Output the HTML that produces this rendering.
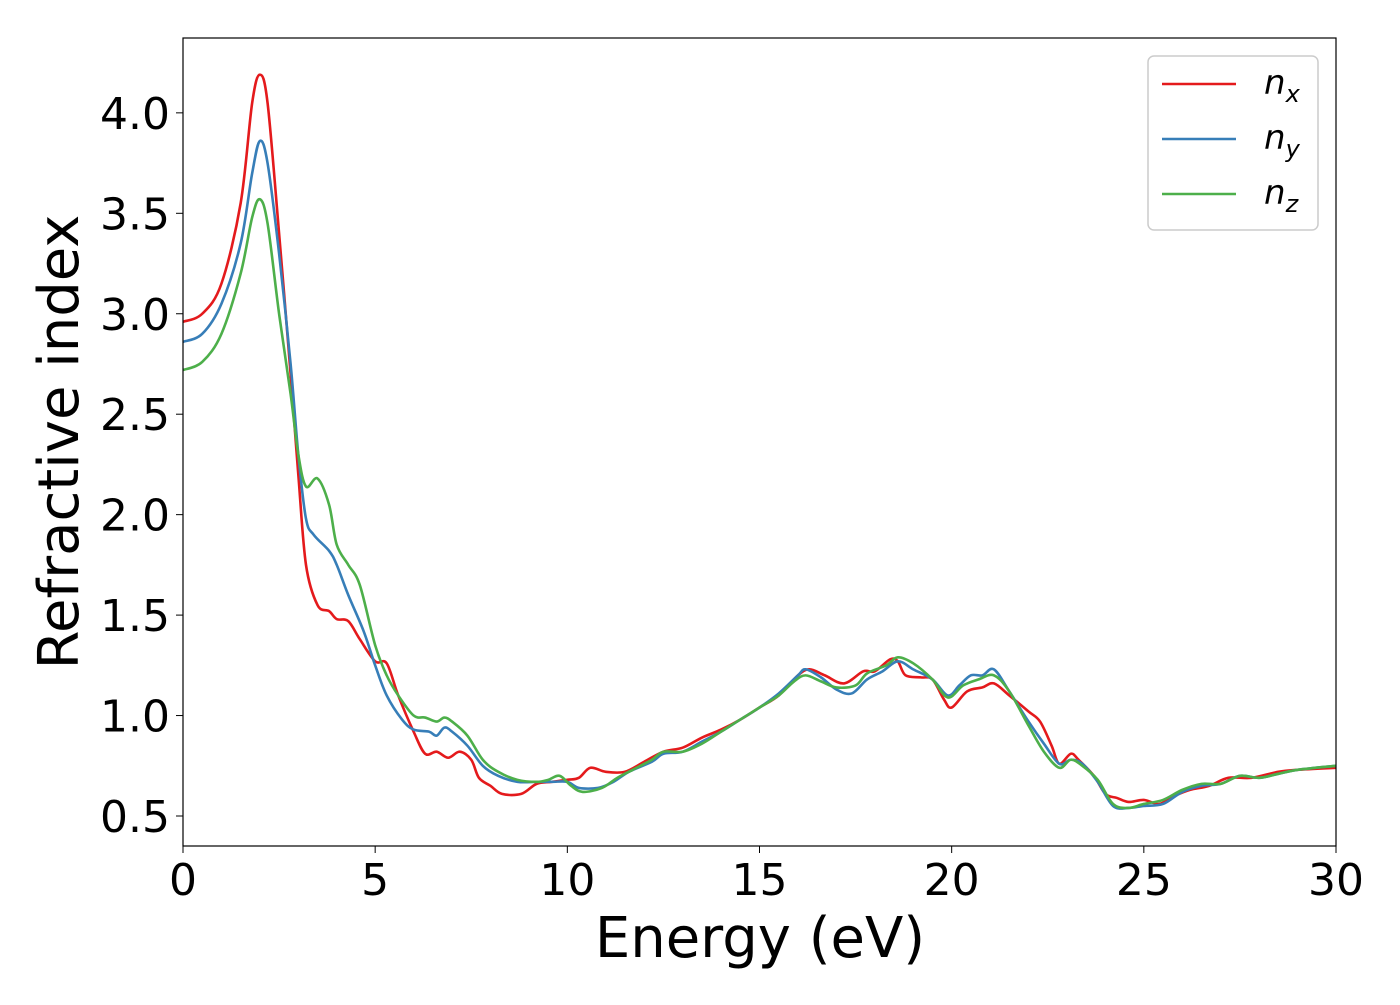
<!DOCTYPE html>
<html><head><meta charset="utf-8"><style>
body{margin:0;background:#fff;}
svg text{font-family:"DejaVu Sans","Liberation Sans",sans-serif;fill:#000;}
</style></head><body>
<svg id="chart" width="1400" height="1000" xmlns="http://www.w3.org/2000/svg">
<rect width="1400" height="1000" fill="#fff"/>
<g id="series"></g>
<rect x="183" y="38" width="1153" height="808" fill="none" stroke="#000" stroke-width="1.2"/>
<g id="xticks"></g><g id="yticks"></g>
<text x="760" y="957" font-size="56" text-anchor="middle">Energy (eV)</text>
<text transform="translate(78,442) rotate(-90)" font-size="56" text-anchor="middle">Refractive index</text>
<g>
<rect x="1148" y="56" width="170" height="174" rx="6" fill="#fff" fill-opacity="0.8" stroke="#ccc" stroke-width="1.5"/>
<g id="legend-entries"></g>
</g>
</svg>
<script>
const xTicks=[0,5,10,15,20,25,30];
const yTicks=[0.5,1.0,1.5,2.0,2.5,3.0,3.5,4.0];
const energy_x=[0,0.5,1,1.5,1.8,2.0,2.2,2.5,2.8,3.0,3.2,3.5,3.8,4.0,4.3,4.6,5.0,5.3,5.6,6.0,6.3,6.6,6.9,7.2,7.5,7.7,8.0,8.3,8.8,9.2,9.6,10.0,10.3,10.6,11.0,11.5,12.0,12.5,13,13.5,14,14.5,15,15.5,16,16.3,16.7,17.2,17.7,18.0,18.4,18.6,18.8,19.2,19.5,19.8,20.0,20.4,20.8,21.1,21.5,22,22.3,22.6,22.8,23.1,23.3,23.7,24.0,24.3,24.6,25.0,25.4,25.8,26.2,26.7,27.2,27.8,28.5,29,30];
const nx=[2.96,3.0,3.15,3.55,4.05,4.19,4.05,3.4,2.7,2.2,1.75,1.55,1.52,1.48,1.47,1.38,1.27,1.26,1.1,0.92,0.81,0.82,0.79,0.82,0.78,0.69,0.65,0.61,0.61,0.66,0.67,0.68,0.69,0.74,0.72,0.72,0.77,0.82,0.84,0.89,0.93,0.98,1.04,1.1,1.2,1.23,1.2,1.16,1.22,1.22,1.28,1.27,1.2,1.19,1.18,1.08,1.04,1.12,1.14,1.16,1.1,1.02,0.97,0.85,0.76,0.81,0.78,0.7,0.61,0.59,0.57,0.58,0.56,0.6,0.63,0.65,0.69,0.69,0.72,0.73,0.74];
const energy_y=[0,0.5,1,1.5,1.8,2.0,2.2,2.5,2.8,3.0,3.2,3.4,3.8,4.0,4.3,4.7,5.0,5.3,5.7,6.0,6.4,6.6,6.8,7.0,7.4,7.8,8.2,8.7,9.2,9.6,10.0,10.3,10.8,11.2,11.6,12.2,12.5,13,13.5,14,14.5,15,15.5,16,16.2,16.6,17,17.4,17.8,18.2,18.6,19,19.5,19.9,20.2,20.5,20.8,21.1,21.5,22,22.4,22.8,23.1,23.4,23.8,24.2,24.6,25.0,25.5,26,26.5,27,27.5,28,28.5,29,30];
const ny=[2.86,2.9,3.05,3.35,3.7,3.86,3.75,3.3,2.75,2.3,1.98,1.9,1.82,1.75,1.6,1.42,1.25,1.1,0.98,0.93,0.92,0.9,0.94,0.92,0.85,0.75,0.7,0.67,0.67,0.67,0.67,0.64,0.64,0.67,0.72,0.77,0.81,0.82,0.87,0.92,0.98,1.04,1.11,1.2,1.23,1.19,1.13,1.11,1.18,1.22,1.27,1.23,1.18,1.1,1.15,1.2,1.2,1.23,1.12,0.97,0.86,0.76,0.78,0.76,0.67,0.55,0.54,0.55,0.56,0.62,0.65,0.66,0.7,0.69,0.71,0.73,0.75];
const energy_z=[0,0.5,1,1.5,1.8,2.0,2.2,2.5,2.8,3.0,3.2,3.5,3.8,4.0,4.3,4.6,5.0,5.3,5.6,6.0,6.3,6.6,6.8,7.0,7.4,7.8,8.2,8.7,9.2,9.5,9.8,10.1,10.4,10.9,11.3,11.7,12.2,12.5,13,13.5,14,14.5,15,15.5,15.9,16.2,16.6,17,17.5,17.8,18.3,18.6,19,19.5,19.9,20.3,20.7,21.1,21.5,22,22.4,22.8,23.1,23.4,23.8,24.2,24.6,25.0,25.5,26,26.5,27,27.5,28,28.5,29,30];
const nz=[2.72,2.76,2.9,3.2,3.48,3.57,3.45,3.0,2.6,2.3,2.14,2.18,2.05,1.85,1.75,1.65,1.35,1.2,1.1,1.0,0.99,0.97,0.99,0.97,0.9,0.78,0.72,0.68,0.67,0.68,0.7,0.65,0.62,0.64,0.69,0.73,0.78,0.82,0.82,0.86,0.92,0.98,1.04,1.1,1.17,1.2,1.17,1.14,1.15,1.21,1.25,1.29,1.26,1.18,1.09,1.15,1.18,1.2,1.12,0.95,0.82,0.74,0.78,0.75,0.68,0.56,0.54,0.56,0.58,0.63,0.66,0.66,0.7,0.69,0.71,0.73,0.75];
const NS="http://www.w3.org/2000/svg";
const X=v=>183+v*(1153/30);
const Y=v=>816-(v-0.5)*200.9;
function smooth(xs,ys){
  const p=xs.map((x,i)=>[X(x),Y(ys[i])]);
  let d="M"+p[0][0]+","+p[0][1];
  for(let i=0;i<p.length-1;i++){
    const p0=p[Math.max(0,i-1)],p1=p[i],p2=p[i+1],p3=p[Math.min(p.length-1,i+2)];
    const c1=[p1[0]+(p2[0]-p0[0])/6,p1[1]+(p2[1]-p0[1])/6];
    const c2=[p2[0]-(p3[0]-p1[0])/6,p2[1]-(p3[1]-p1[1])/6];
    d+=` C${c1[0]},${c1[1]} ${c2[0]},${c2[1]} ${p2[0]},${p2[1]}`;
  }
  return d;
}
const sg=document.getElementById("series");
[[energy_x,nx,"#e41a1c","series-nx"],[energy_y,ny,"#377eb8","series-ny"],[energy_z,nz,"#4daf4a","series-nz"]].forEach(s=>{
  const p=document.createElementNS(NS,"path");
  p.setAttribute("d",smooth(s[0],s[1]));
  p.setAttribute("fill","none");p.setAttribute("stroke",s[2]);p.setAttribute("stroke-width","2.6");
  
  
  sg.appendChild(p);
});
const xg=document.getElementById("xticks");
xTicks.forEach(t=>{
  const l=document.createElementNS(NS,"line");
  l.setAttribute("x1",X(t));l.setAttribute("x2",X(t));l.setAttribute("y1",846);l.setAttribute("y2",853);l.setAttribute("stroke","#000");
  
  
  xg.appendChild(l);
  const tx=document.createElementNS(NS,"text");
  tx.setAttribute("x",X(t));tx.setAttribute("y",895);tx.setAttribute("font-size","44");tx.setAttribute("text-anchor","middle");
  tx.textContent=t;
  
  
  xg.appendChild(tx);
});
const yg=document.getElementById("yticks");
yTicks.forEach(t=>{
  const l=document.createElementNS(NS,"line");
  l.setAttribute("x1",176);l.setAttribute("x2",183);l.setAttribute("y1",Y(t));l.setAttribute("y2",Y(t));l.setAttribute("stroke","#000");
  
  
  yg.appendChild(l);
  const tx=document.createElementNS(NS,"text");
  tx.setAttribute("x",170);tx.setAttribute("y",Y(t)+16);tx.setAttribute("font-size","44");tx.setAttribute("text-anchor","end");
  tx.textContent=t.toFixed(1);
  
  
  yg.appendChild(tx);
});
const lg=document.getElementById("legend-entries");
[["#e41a1c","x",84],["#377eb8","y",139],["#4daf4a","z",194]].forEach(e=>{
  const l=document.createElementNS(NS,"line");
  l.setAttribute("x1",1162);l.setAttribute("x2",1236);l.setAttribute("y1",e[2]);l.setAttribute("y2",e[2]);l.setAttribute("stroke",e[0]);l.setAttribute("stroke-width","2.6");
  
  
  lg.appendChild(l);
  const t=document.createElementNS(NS,"text");
  t.setAttribute("x",1264);t.setAttribute("y",e[2]+10);t.setAttribute("font-size","34");t.setAttribute("font-style","italic");
  t.innerHTML='n<tspan font-size="24" dy="8">'+e[1]+'</tspan>';
  
  
  lg.appendChild(t);
});
</script>
</body></html>
